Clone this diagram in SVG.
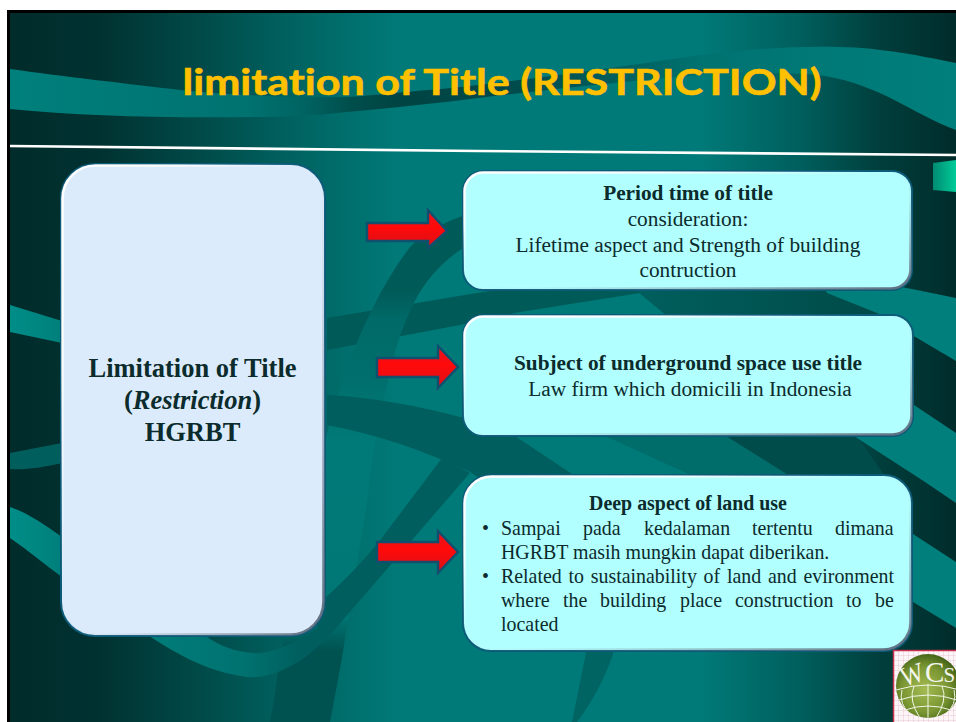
<svg xmlns="http://www.w3.org/2000/svg" width="956" height="722" viewBox="0 0 956 722">
<style>
.serif{font-family:"Liberation Serif","Times New Roman",serif;fill:#0b2b2c}
.c{text-anchor:middle}
.b{font-weight:bold}
.big{font-size:26.5px}
.mid{font-size:21.3px}
.sm{font-size:19.9px}
.panel{stroke:#0b5a78;stroke-width:2}
.lav{fill:#dbebfb}
.cyan{fill:#b2ffff}
.bevel{fill:none;stroke:url(#bevel);stroke-width:2.6;filter:url(#soft)}
.arrow{fill:url(#red);stroke:#10506e;stroke-width:2.4;stroke-linejoin:miter}
.band{fill:#007f7c}
.gl{fill:none;stroke:#f2f6e6;stroke-width:1}
.logoT{font-family:"Liberation Serif",serif;fill:#f4f6ee}
</style>
<defs>
<linearGradient id="bg" gradientUnits="userSpaceOnUse" x1="10" y1="0" x2="956" y2="0">
<stop offset="0" stop-color="#002c2b"/><stop offset="0.095" stop-color="#003231"/><stop offset="0.2" stop-color="#004a48"/><stop offset="0.306" stop-color="#006462"/><stop offset="0.412" stop-color="#007a78"/><stop offset="0.73" stop-color="#007a78"/><stop offset="0.835" stop-color="#005f5d"/><stop offset="0.92" stop-color="#003e3c"/><stop offset="1" stop-color="#002c2b"/>
</linearGradient>
<linearGradient id="ribTop" gradientUnits="userSpaceOnUse" x1="10" y1="0" x2="956" y2="0">
<stop offset="0" stop-color="#00807c"/><stop offset="0.25" stop-color="#007270"/><stop offset="0.31" stop-color="#006462"/><stop offset="0.36" stop-color="#004e4c"/><stop offset="0.41" stop-color="#004443"/><stop offset="0.52" stop-color="#00494a"/><stop offset="0.62" stop-color="#005a59"/><stop offset="0.73" stop-color="#007270"/><stop offset="0.84" stop-color="#007876"/><stop offset="1" stop-color="#007f7c"/>
</linearGradient>
<linearGradient id="ribD" gradientUnits="userSpaceOnUse" x1="140" y1="0" x2="300" y2="0">
<stop offset="0" stop-color="#007e7a"/><stop offset="0.65" stop-color="#007270"/><stop offset="1" stop-color="#005f5e"/>
</linearGradient>
<linearGradient id="ribE" gradientUnits="userSpaceOnUse" x1="0" y1="215" x2="0" y2="722">
<stop offset="0" stop-color="#005a58"/><stop offset="0.148" stop-color="#005a58"/><stop offset="0.207" stop-color="#006a68"/><stop offset="0.325" stop-color="#006f6d"/><stop offset="0.45" stop-color="#007a78"/><stop offset="0.79" stop-color="#007775"/><stop offset="0.86" stop-color="#005250"/><stop offset="1" stop-color="#005250"/>
</linearGradient>
<linearGradient id="gap1" gradientUnits="userSpaceOnUse" x1="633" y1="0" x2="877" y2="0">
<stop offset="0" stop-color="#005f5d"/><stop offset="0.45" stop-color="#005654"/><stop offset="1" stop-color="#004a48"/>
</linearGradient>
<linearGradient id="stub" gradientUnits="userSpaceOnUse" x1="10" y1="0" x2="62" y2="0">
<stop offset="0" stop-color="#008d88"/><stop offset="1" stop-color="#007f7b"/>
</linearGradient>
<linearGradient id="green" x1="0" y1="0" x2="1" y2="0">
<stop offset="0" stop-color="#008a72"/><stop offset="1" stop-color="#00cc98"/>
</linearGradient>
<linearGradient id="bevel" x1="0" y1="0" x2="1" y2="1">
<stop offset="0" stop-color="#ffffff"/><stop offset="0.22" stop-color="#ffffff" stop-opacity="0.8"/><stop offset="0.45" stop-color="#ffffff" stop-opacity="0"/><stop offset="0.62" stop-color="#8090a0" stop-opacity="0.15"/><stop offset="1" stop-color="#5a6a7c"/>
</linearGradient>
<linearGradient id="red" x1="0" y1="0" x2="0" y2="1">
<stop offset="0" stop-color="#e41420"/><stop offset="0.45" stop-color="#ff0a0a"/><stop offset="1" stop-color="#d81018"/>
</linearGradient>
<radialGradient id="globe" cx="0.45" cy="0.55" r="0.6">
<stop offset="0" stop-color="#a4bb52"/><stop offset="0.6" stop-color="#7a9632"/><stop offset="1" stop-color="#3a5a14"/>
</radialGradient>
<pattern id="grid" width="5" height="5" patternUnits="userSpaceOnUse" x="894" y="651">
<rect width="5" height="5" fill="#fdf6f8"/><path d="M5,0V5M0,5H5" stroke="#eec8d4" stroke-width="1" fill="none"/>
</pattern>
<filter id="soft" x="-5%" y="-5%" width="110%" height="110%"><feGaussianBlur stdDeviation="0.7"/></filter>
<clipPath id="globeClip"><circle cx="928" cy="686" r="32"/></clipPath>
</defs>

<rect width="956" height="722" fill="#ffffff"/>
<rect x="7" y="10" width="949" height="712" fill="#000000"/>
<g id="background">
<rect x="10" y="13" width="946" height="709" fill="url(#bg)"/>
<path d="M10,69 C60,76 130,84 180,90 C240,96 300,98 347,97 C380,95 405,92 427,90 C480,86 600,70 700,55 C760,47 840,44 880,50 C915,54 940,60 956,63 L956,130 C915,115 880,85 825,76 C780,70 700,74 645,80 C580,86 530,92 478,98 C430,104 390,108 347,112 C310,116 280,117 250,117 C160,118 80,116 10,109 Z" fill="url(#ribTop)"/>
<path d="M10,146 L478,151 L956,155" fill="none" stroke="#ffffff" stroke-width="2.6"/>
<path d="M933,163 L956,160 L956,192 L933,190 Z" fill="url(#green)"/>
<path d="M10,305 L62,321 L62,343 L10,332 Z" fill="url(#stub)"/>
<path d="M10,453 L62,443 L62,463 C40,468 25,470 10,469 Z" fill="#005f5d"/>
<path d="M10,507 C28,513 45,525 62,537 L62,577 C45,565 28,550 10,538 Z" fill="url(#stub)"/>
<path d="M327,318 L477,293 L640,270 L640,293 L520,312 L460,325 L327,350 Z" fill="#005a58"/>
<path d="M270,722 C275,700 276,680 280,660 L300,560 C315,470 335,400 350,360 C365,320 385,280 410,247 C425,232 445,222 465,215 L465,247 C440,262 425,283 417,297 C405,320 398,340 393,360 C380,410 375,440 370,480 C362,540 352,590 348,620 C342,660 336,690 330,722 Z" fill="url(#ribE)"/>
<path d="M327,395 C370,397 420,406 460,417 L540,425 L605,438 L694,473 L694,480 L482,480 L470,472 C427,452 380,435 327,425 Z" fill="#005f5e"/>
<path d="M515,436 L575,476 L694,476 L605,436 Z" fill="#007a78"/>
<path d="M605,436 L694,476 L790,476 L726,436 Z" fill="#006d6b"/>
<path d="M726,436 L790,476 L885,476 L857,436 Z" fill="#004c4b"/>
<path d="M633,288 L667,316 L885,316 L827,288 Z" fill="url(#gap1)"/>
<path d="M880,283 L912,289 L956,298 L956,361 L912,335 L877,313 L827,293 L820,280 Z" class="band"/>
<path d="M800,380 L914,405 L956,433 L956,503 L922,480 L857,438 L850,430 Z" class="band"/>
<path d="M880,520 L913,534 L956,562 L956,628 L913,602 L880,590 Z" class="band"/>
<path d="M140,630 C170,650 205,672 247,677 C258,678 268,676 278,672 C295,665 310,655 317,647 C330,635 338,627 343,620 L470,473 L442,458 L390,527 C370,555 345,580 325,598 L317,628 C305,636 295,643 283,647 C270,652 260,654 253,653 C235,652 215,645 198,630 Z" fill="url(#ribD)"/>
<path d="M587,648 L615,648 C605,680 590,705 577,722 L572,722 Z" fill="#006462"/>
</g>

<g id="title">
<text x="502" y="95" text-anchor="middle" textLength="639" lengthAdjust="spacingAndGlyphs" font-family="Lato,'Open Sans',sans-serif" font-weight="bold" font-size="37" fill="#ffc000" stroke="#ffc000" stroke-width="0.6" style="font-variant-ligatures:none">limitation of Title (RESTRICTION)</text>
</g>

<g id="connectors">
<polygon class="arrow" points="367,223 428,223 428,210 447,231 428,248 428,241 367,241"/>
<polygon class="arrow" points="377,358 438,358 438,346 458,367 438,388 438,377 377,377"/>
<polygon class="arrow" points="377,542 438,542 438,531 458,552 438,573 438,562 377,562"/>
</g>

<g id="node-main">
<rect class="panel lav" x="61" y="164" width="264" height="472" rx="34"/>
<rect class="bevel" x="62.500" y="165.500" width="261" height="469" rx="33"/>
<text class="serif c b big" x="192.500" y="377">Limitation of Title</text>
<text class="serif c b big" x="192.500" y="409">(<tspan font-style="italic">Restriction</tspan>)</text>
<text class="serif c b big" x="192.500" y="441">HGRBT</text>
</g>

<g id="node-period">
<rect class="panel cyan" x="463" y="171" width="449" height="119" rx="20"/>
<rect class="bevel" x="464.500" y="172.500" width="446" height="116" rx="19"/>
<text class="serif c b mid" x="688" y="200">Period time of title</text>
<text class="serif c mid" x="688" y="226">consideration:</text>
<text class="serif c mid" x="688" y="252">Lifetime aspect and Strength of building</text>
<text class="serif c mid" x="688" y="277">contruction</text>
</g>

<g id="node-subject">
<rect class="panel cyan" x="463" y="315" width="450" height="121" rx="20"/>
<rect class="bevel" x="464.500" y="316.500" width="447" height="118" rx="19"/>
<text class="serif c b mid" x="688" y="370">Subject of underground space use title</text>
<text class="serif c mid" x="690" y="396">Law firm which domicili in Indonesia</text>
</g>

<g id="node-deep">
<rect class="panel cyan" x="463" y="475" width="449" height="176" rx="28"/>
<rect class="bevel" x="464.500" y="476.500" width="446" height="173" rx="27"/>
<text class="serif c b sm" x="688" y="510">Deep aspect of land use</text>
<text class="serif sm" x="482" y="535">•</text>
<text class="serif sm" y="535"><tspan x="501">Sampai</tspan><tspan x="583">pada</tspan><tspan x="644">kedalaman</tspan><tspan x="752">tertentu</tspan><tspan x="835">dimana</tspan></text>
<text class="serif sm" x="501" y="559">HGRBT masih mungkin dapat diberikan.</text>
<text class="serif sm" x="482" y="583">•</text>
<text class="serif sm" x="501" y="583" word-spacing="1.800">Related to sustainability of land and evironment</text>
<text class="serif sm" y="607"><tspan x="501">where</tspan><tspan x="563">the</tspan><tspan x="600">building</tspan><tspan x="680">place</tspan><tspan x="735">construction</tspan><tspan x="846">to</tspan><tspan x="875">be</tspan></text>
<text class="serif sm" x="501" y="631">located</text>
</g>

<g id="logo">
<rect x="893.500" y="650.500" width="70" height="80" fill="url(#grid)" stroke="#c8304e" stroke-width="1.500"/>
<circle cx="928" cy="686" r="32" fill="url(#globe)"/>
<g clip-path="url(#globeClip)">
<path class="gl" d="M896,690 Q928,680 960,690 M899,700 Q928,690 957,700 M905,710 Q928,702 951,710"/>
<path class="gl" d="M928,684 V718 M914,686 Q908,700 920,718 M942,686 Q948,700 936,718 M902,690 Q898,704 912,716 M954,690 Q958,704 944,716"/>
</g>
<text class="logoT" x="901" y="684" font-size="28" transform="rotate(-18 912 676)" textLength="23" lengthAdjust="spacingAndGlyphs">W</text>
<text class="logoT" x="925" y="682" font-size="29">C</text>
<text class="logoT" x="943.500" y="682" font-size="21">S</text>
</g>
</svg>
